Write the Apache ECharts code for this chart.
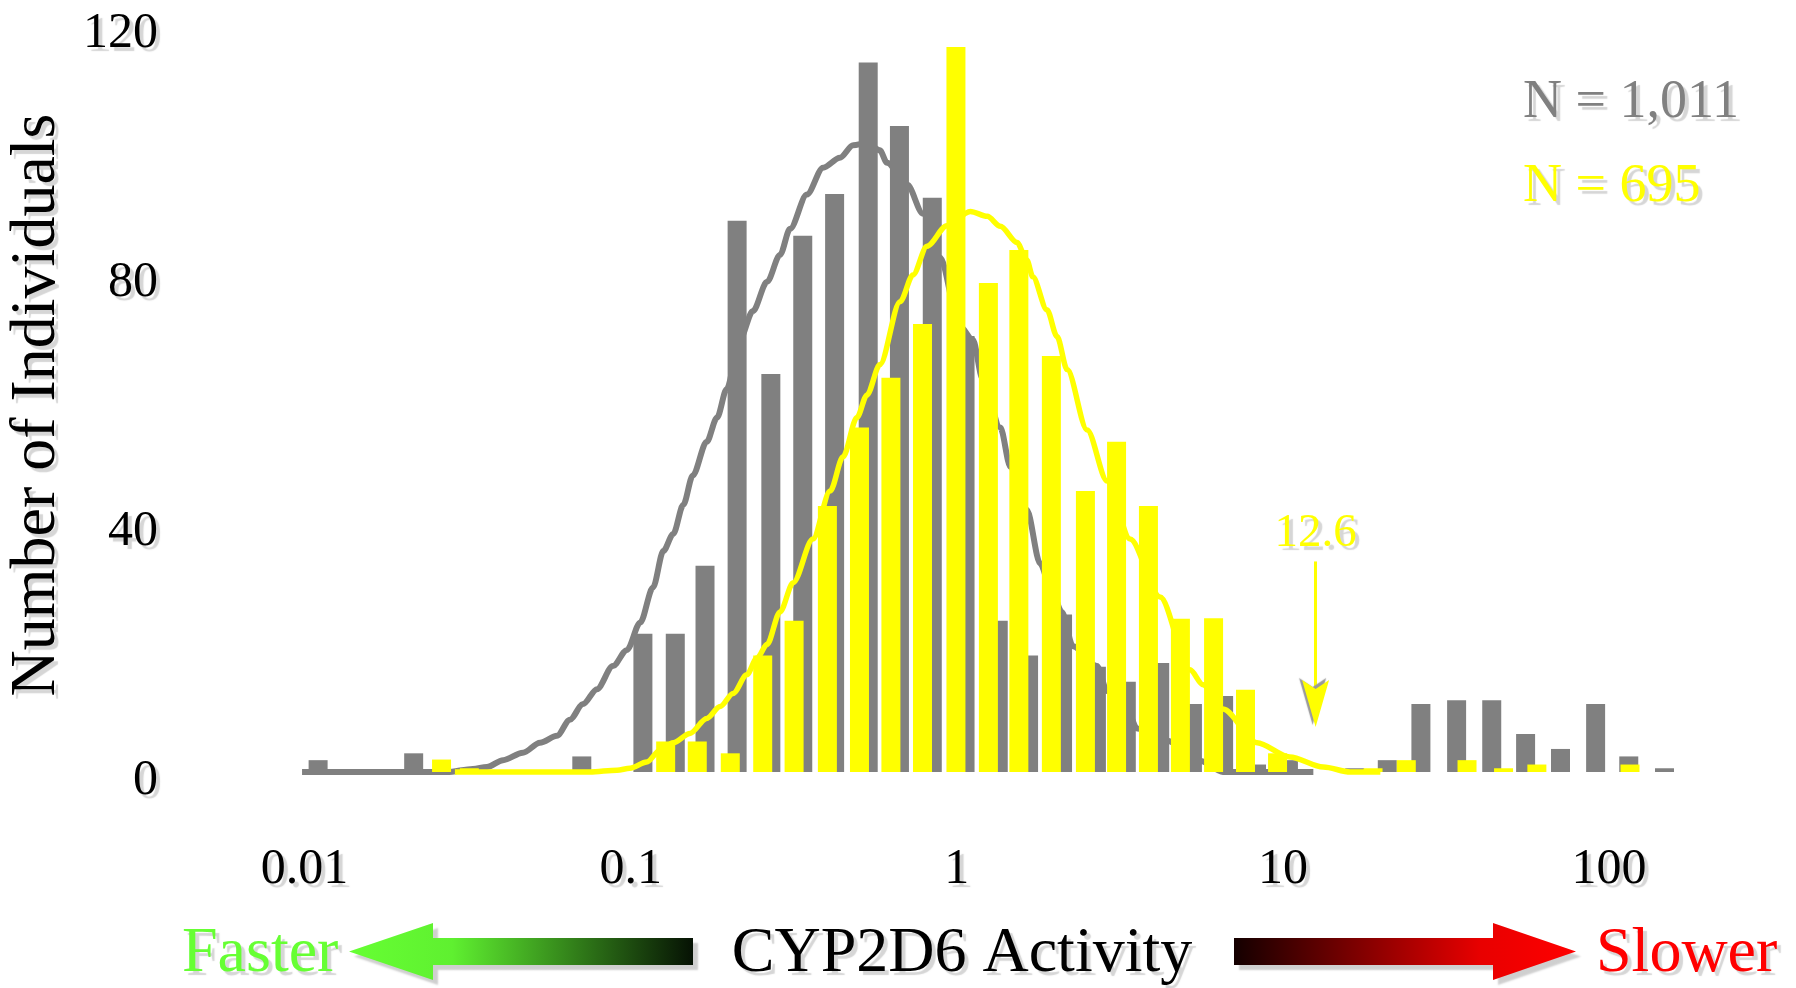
<!DOCTYPE html>
<html>
<head>
<meta charset="utf-8">
<title>CYP2D6 Activity</title>
<script src="https://cdn.jsdelivr.net/npm/echarts@6/dist/echarts.min.js"></script>
<style>
  html, body { margin: 0; padding: 0; background: #ffffff; }
  #chart { width: 1796px; height: 988px; }
</style>
</head>
<body>
<div id="chart"></div>
<script>
// Grey histogram: bin centre (activity) and bar height
const greyCenters = [0.0110, 0.0216, 0.0708, 0.109, 0.137, 0.169, 0.212, 0.269, 0.337, 0.422,
  0.535, 0.667, 0.841, 1.06, 1.34, 1.66, 2.11, 2.68, 3.31, 4.19, 5.28, 6.58, 8.30, 10.4,
  16.6, 20.9, 26.5, 34.1, 43.7, 55.5, 71.0, 91.0, 115, 148];
const greyCounts = [1.9, 3.0, 2.5, 22.2, 22.2, 33.1, 88.5, 63.9, 86.1, 92.8,
  113.9, 103.7, 92.2, 70.0, 24.3, 18.7, 25.3, 16.9, 14.5, 17.5, 10.9, 12.2, 1.2, 1.9,
  0.6, 1.9, 10.9, 11.5, 11.5, 6.1, 3.7, 10.9, 2.5, 0.6];

// Yellow histogram
const yellowCenters = [0.0263, 0.0320, 0.128, 0.160, 0.202, 0.254, 0.317, 0.401, 0.503, 0.628,
  0.785, 0.994, 1.25, 1.55, 1.95, 2.48, 3.09, 3.87, 4.85, 6.13, 7.68, 9.63,
  18.9, 23.9, 36.7, 47.5, 60.1, 116];
const yellowCounts = [2.0, 0.6, 4.9, 4.9, 3.0, 18.7, 24.3, 42.7, 55.3, 63.3,
  71.9, 116.4, 78.5, 83.8, 66.8, 45.1, 53.0, 42.7, 24.6, 24.7, 13.2, 3.0,
  0.6, 1.9, 1.9, 0.6, 1.2, 1.2];

// Fitted distribution curves
const greyCurveX = [0.00982, 0.0273, 0.0328, 0.0362, 0.0406, 0.0467, 0.0527, 0.0594, 0.0651, 0.0714,
  0.0788, 0.0882, 0.0974, 0.107, 0.117, 0.126, 0.135, 0.145, 0.155, 0.171, 0.184, 0.197, 0.216,
  0.237, 0.262, 0.287, 0.308, 0.347, 0.389, 0.438, 0.481, 0.530, 0.581, 0.611, 0.704, 0.788,
  0.888, 1.02, 1.12, 1.20, 1.36, 1.46, 1.64, 1.80, 1.93, 2.10, 2.27, 2.69, 2.89, 3.33, 3.57,
  4.41, 5.57, 6.55, 12.4];
const greyCurveY = [0, 0, 0.5, 0.8, 1.9, 3.1, 4.7, 5.8, 8.4, 10.9,
  13.3, 17.0, 19.6, 24.0, 29.6, 35.5, 38.2, 42.9, 47.6, 53.0, 56.9, 61.5, 69.4,
  74.0, 78.7, 83.0, 87.2, 92.7, 97.0, 98.6, 100.6, 101.0, 99.8, 97.8, 94.3, 89.6,
  82.6, 71.6, 69.4, 63.1, 55.3, 49.0, 42.1, 33.5, 30.0, 25.7, 20.2, 17.0, 13.0, 10.0, 7.0,
  5.0, 1.8, 0, 0];
const yellowCurveX = [0.0289, 0.0750, 0.0908, 0.0995, 0.112, 0.123, 0.135, 0.152, 0.171, 0.188,
  0.206, 0.227, 0.244, 0.262, 0.287, 0.315, 0.362, 0.409, 0.448, 0.494, 0.530, 0.581, 0.670,
  0.734, 0.810, 0.933, 1.10, 1.24, 1.36, 1.53, 1.64, 1.71, 1.89, 2.03, 2.18, 2.51, 2.89,
  3.40, 4.20, 5.19, 5.69, 6.55, 8.33, 10.5, 13.3, 16.1, 19.9];
const yellowCurveY = [0, 0, 0.3, 0.6, 1.6, 3.5, 4.7, 6.2, 8.6, 10.5,
  12.6, 15.6, 18.3, 20.5, 25.7, 30.4, 37.4, 45.1, 50.6, 56.9, 60.5, 65.4, 75.5,
  79.8, 84.4, 87.7, 90.0, 89.2, 87.6, 85.0, 82.2, 79.5, 74.2, 69.9, 64.6, 54.9, 46.7,
  37.4, 28.1, 16.4, 14.0, 10.1, 4.7, 2.4, 0.8, 0, 0];

// Axis ticks
const xTickValues = [0.01, 0.1, 1, 10, 100];
const xTickLabels = ['0.01', '0.1', '1', '10', '100'];
const yTickMax = 120;
const yTickStep = 40;

// Annotations
const antimode = 12.6;
const antimodeArrowTop = 33.8;
const antimodeArrowTip = 7.2;
const greyTotal = '1,011';
const yellowTotal = '695';

const GREY = '#808080';
const YELLOW = '#ffff00';
const SERIF = 'Liberation Serif';
const SHADOW = '#d6d6d6';

// arrowhead pointing down, notched where the shaft joins
const ARROW_HEAD = 'path://M0,0 L13.5,9 L27,0 L13.5,47 Z';

const lg = v => Math.log10(v);
const pairs = (xs, ys) => xs.map((x, i) => [lg(x), ys[i]]);

const chart = echarts.init(document.getElementById('chart'), null, { renderer: 'canvas' });

const textShadow = {
  textShadowColor: SHADOW,
  textShadowBlur: 1,
  textShadowOffsetX: 4,
  textShadowOffsetY: 4
};

function arrowPolygon(points, gradientStops) {
  return {
    type: 'polygon',
    silent: true,
    shape: { points: points },
    style: {
      fill: new echarts.graphic.LinearGradient(0, 0, 1, 0, gradientStops),
      shadowColor: '#cfcfcf',
      shadowBlur: 2,
      shadowOffsetX: 5,
      shadowOffsetY: 5
    }
  };
}

function label(text, x, y, size, color, align, rotation) {
  return {
    type: 'text',
    silent: true,
    x: x,
    y: y,
    rotation: rotation || 0,
    style: Object.assign({
      text: text,
      fontFamily: SERIF,
      fontSize: size,
      fill: color,
      align: align,
      verticalAlign: 'middle'
    }, textShadow)
  };
}

const option = {
  animation: false,
  backgroundColor: '#ffffff',
  grid: { left: 272, right: 105.5, top: 24.5, bottom: 216, containLabel: false },
  xAxis: {
    type: 'value',
    min: -2.1,
    max: 2.25,
    axisLine: { show: false },
    axisTick: { show: false },
    splitLine: { show: false },
    axisLabel: {
      customValues: xTickValues.map(lg),
      formatter: function (v) {
        for (let i = 0; i < xTickValues.length; i++) {
          if (Math.abs(lg(xTickValues[i]) - v) < 1e-6) return xTickLabels[i];
        }
        return '';
      },
      margin: 73,
      fontFamily: SERIF,
      fontSize: 50,
      color: '#000',
      ...textShadow
    }
  },
  yAxis: {
    type: 'value',
    min: 0,
    max: yTickMax,
    interval: yTickStep,
    axisLine: { show: false },
    axisTick: { show: false },
    splitLine: { show: false },
    axisLabel: {
      margin: 114,
      fontFamily: SERIF,
      fontSize: 50,
      color: '#000',
      verticalAlign: 'top',
      lineHeight: 18,
      ...textShadow
    }
  },
  series: [
    {
      name: 'grey bars',
      type: 'bar',
      data: pairs(greyCenters, greyCounts),
      barWidth: 19,
      barGap: '-100%',
      itemStyle: { color: GREY },
      z: 2
    },
    {
      name: 'grey curve',
      type: 'line',
      data: pairs(greyCurveX, greyCurveY),
      smooth: 0.3,
      smoothMonotone: 'x',
      showSymbol: false,
      clip: false,
      lineStyle: { color: GREY, width: 6 },
      z: 3
    },
    {
      name: 'yellow bars',
      type: 'bar',
      data: pairs(yellowCenters, yellowCounts),
      barWidth: 19,
      barGap: '-100%',
      itemStyle: { color: YELLOW },
      z: 4,
      markLine: {
        silent: true,
        symbol: ['none', 'none'],
        lineStyle: { color: YELLOW, width: 3, type: 'solid' },
        label: {
          show: true,
          position: 'start',
          distance: 4,
          formatter: String(antimode),
          fontFamily: SERIF,
          fontSize: 47,
          color: YELLOW,
          ...textShadow
        },
        data: [[
          { coord: [lg(antimode), antimodeArrowTop] },
          { coord: [lg(antimode), antimodeArrowTip + 5] }
        ]]
      },
      markPoint: {
        silent: true,
        symbol: ARROW_HEAD,
        symbolSize: [27, 47],
        label: { show: false },
        itemStyle: { color: YELLOW, shadowColor: '#9a9a9a', shadowBlur: 1, shadowOffsetX: -3, shadowOffsetY: -2 },
        data: [{ coord: [lg(antimode), antimodeArrowTip + 3.8] }]
      }
    },
    {
      name: 'yellow curve',
      type: 'line',
      data: pairs(yellowCurveX, yellowCurveY),
      smooth: 0.3,
      smoothMonotone: 'x',
      showSymbol: false,
      clip: false,
      lineStyle: { color: YELLOW, width: 5.5 },
      z: 5
    }
  ],
  graphic: [
    label('Number of Individuals', 37, 405, 64, '#000', 'center', Math.PI / 2),
    label('N = ' + greyTotal, 1523, 103, 54, GREY, 'left'),
    label('N = ' + yellowTotal, 1523, 187, 54, YELLOW, 'left'),
    arrowPolygon(
      [[349, 951.5], [433, 923], [433, 938], [693, 938], [693, 965], [433, 965], [433, 980]],
      [{ offset: 0, color: '#66ff33' }, { offset: 0.3, color: '#5ff030' }, { offset: 1, color: '#061204' }]
    ),
    arrowPolygon(
      [[1234, 938], [1493, 938], [1493, 923], [1576, 951.5], [1493, 980], [1493, 965], [1234, 965]],
      [{ offset: 0, color: '#140000' }, { offset: 0.72, color: '#e80000' }, { offset: 1, color: '#ff0000' }]
    ),
    label('Faster', 182, 954, 64, '#66ff33', 'left'),
    label('CYP2D6 Activity', 962, 954, 64, '#000', 'center'),
    label('Slower', 1596, 954, 64, '#ff0000', 'left')
  ]
};

chart.setOption(option);
</script>
</body>
</html>
